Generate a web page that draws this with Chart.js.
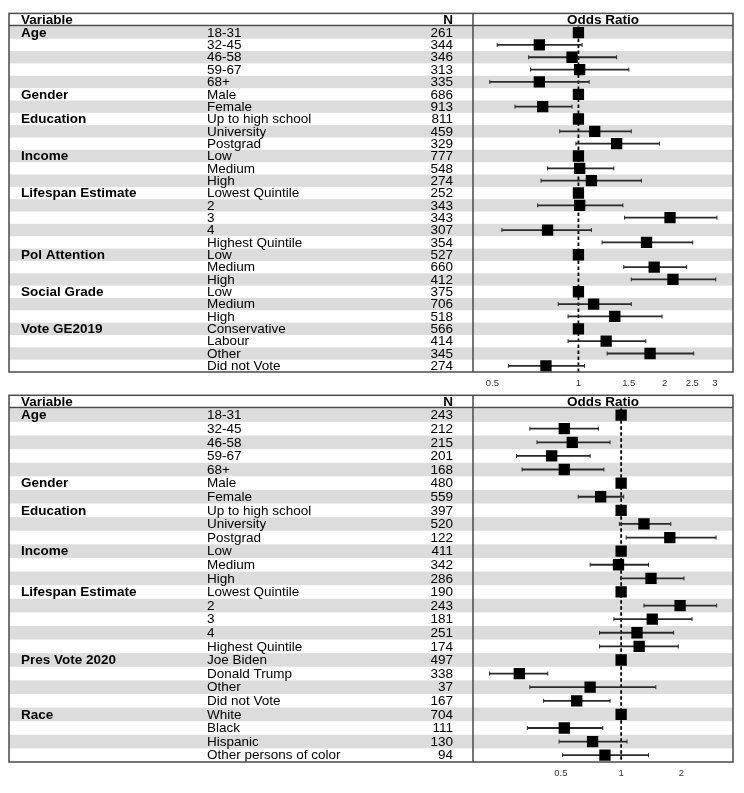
<!DOCTYPE html>
<html>
<head>
<meta charset="utf-8">
<script src="https://cdn.jsdelivr.net/npm/chart.js@4.4.1/dist/chart.umd.min.js"></script>
<style>
  html, body { margin: 0; padding: 0; background: #fff; }
  #page { position: relative; width: 744px; height: 793px; background: #fff; }
  canvas { position: absolute; left: 0; }
  #top { top: 0; }
  #bottom { top: 382px; }
</style>
</head>
<body>
<div id="page">
  <canvas id="top" width="744" height="392"></canvas>
  <canvas id="bottom" width="744" height="400"></canvas>
</div>
<script>
'use strict';

// ---- top panel (UK sample) ----
const topVariable = ['Age', '', '', '', '', 'Gender', '', 'Education', '', '', 'Income', '', '',
  'Lifespan Estimate', '', '', '', '', 'Pol Attention', '', '', 'Social Grade', '', '', 'Vote GE2019', '', '', ''];
const topLevel = ['18-31', '32-45', '46-58', '59-67', '68+', 'Male', 'Female', 'Up to high school', 'University',
  'Postgrad', 'Low', 'Medium', 'High', 'Lowest Quintile', '2', '3', '4', 'Highest Quintile', 'Low', 'Medium', 'High',
  'Low', 'Medium', 'High', 'Conservative', 'Labour', 'Other', 'Did not Vote'];
const topN = [261, 344, 346, 313, 335, 686, 913, 811, 459, 329, 777, 548, 274, 252, 343, 343, 307, 354,
  527, 660, 412, 375, 706, 518, 566, 414, 345, 274];
const topOR = [1, 0.73, 0.95, 1.01, 0.73, 1, 0.75, 1, 1.14, 1.36, 1, 1.01, 1.11, 1, 1.01, 2.09, 0.78, 1.73,
  1, 1.84, 2.14, 1, 1.13, 1.34, 1, 1.25, 1.78, 0.77];
const topLow = [null, 0.52, 0.67, 0.68, 0.49, null, 0.60, null, 0.86, 0.98, null, 0.78, 0.74, null, 0.72, 1.45, 0.54, 1.21,
  null, 1.44, 1.53, null, 0.85, 0.92, null, 0.92, 1.26, 0.57];
const topHigh = [null, 1.03, 1.36, 1.50, 1.09, null, 0.95, null, 1.53, 1.92, null, 1.33, 1.66, null, 1.43, 3.05, 1.11, 2.51,
  null, 2.39, 3.02, null, 1.53, 1.96, null, 1.72, 2.53, 1.05];
const topTicks = [0.5, 1, 1.5, 2, 2.5, 3];

// ---- bottom panel (US sample) ----
const botVariable = ['Age', '', '', '', '', 'Gender', '', 'Education', '', '', 'Income', '', '',
  'Lifespan Estimate', '', '', '', '', 'Pres Vote 2020', '', '', '', 'Race', '', '', ''];
const botLevel = ['18-31', '32-45', '46-58', '59-67', '68+', 'Male', 'Female', 'Up to high school', 'University',
  'Postgrad', 'Low', 'Medium', 'High', 'Lowest Quintile', '2', '3', '4', 'Highest Quintile', 'Joe Biden',
  'Donald Trump', 'Other', 'Did not Vote', 'White', 'Black', 'Hispanic', 'Other persons of color'];
const botN = [243, 212, 215, 201, 168, 480, 559, 397, 520, 122, 411, 342, 286, 190, 243, 181, 251, 174,
  497, 338, 37, 167, 704, 111, 130, 94];
const botOR = [1, 0.52, 0.57, 0.45, 0.52, 1, 0.79, 1, 1.30, 1.75, 1, 0.97, 1.41, 1, 1.97, 1.43, 1.20, 1.23,
  1, 0.31, 0.70, 0.60, 1, 0.52, 0.72, 0.83];
const botLow = [null, 0.35, 0.38, 0.30, 0.32, null, 0.61, null, 0.98, 1.06, null, 0.70, 1.0, null, 1.30, 0.92, 0.78, 0.78,
  null, 0.22, 0.35, 0.41, null, 0.34, 0.49, 0.51];
const botHigh = [null, 0.77, 0.88, 0.70, 0.82, null, 1.03, null, 1.77, 2.98, null, 1.37, 2.06, null, 3.0, 2.26, 1.83, 1.93,
  null, 0.43, 1.49, 0.88, null, 0.81, 1.07, 1.37];
const botTicks = [0.5, 1, 2];

const FONT = '"Liberation Sans", Arial, sans-serif';
const STRIPE = '#dcdcdc';
const FRAME = '#4a4a4a';

function forestPlugin(rows) {
  return {
    id: 'forestTable',
    beforeDatasetsDraw(chart) {
      const ctx = chart.ctx;
      const area = chart.chartArea;
      const xs = chart.scales.x;
      const ys = chart.scales.y;
      const left = 9;
      const rowH = Math.abs(ys.getPixelForValue(1) - ys.getPixelForValue(0));
      ctx.save();

      // stripes
      ctx.fillStyle = STRIPE;
      rows.level.forEach(function (_, i) {
        if (i % 2 === 0) {
          const y = ys.getPixelForValue(i);
          ctx.fillRect(left, y - rowH / 2, area.right - left, rowH);
        }
      });

      // table text
      ctx.fillStyle = '#000';
      ctx.textBaseline = 'middle';
      rows.level.forEach(function (lvl, i) {
        const y = ys.getPixelForValue(i) + 0.5;
        if (rows.variable[i]) {
          ctx.font = 'bold 13.5px ' + FONT;
          ctx.textAlign = 'left';
          ctx.fillText(rows.variable[i], 21, y);
        }
        ctx.font = '13.5px ' + FONT;
        ctx.textAlign = 'left';
        ctx.fillText(lvl, 207, y);
        ctx.textAlign = 'right';
        ctx.fillText(String(rows.n[i]), 453, y);
      });

      // header
      ctx.font = 'bold 13.5px ' + FONT;
      ctx.textBaseline = 'alphabetic';
      const hy = area.top - 2;
      ctx.textAlign = 'left';
      ctx.fillText('Variable', 21, hy);
      ctx.textAlign = 'right';
      ctx.fillText('N', 453, hy);
      ctx.textAlign = 'center';
      ctx.fillText('Odds Ratio', (area.left + area.right) / 2, hy);

      // reference line at OR = 1
      const x1 = xs.getPixelForValue(1);
      ctx.strokeStyle = '#000';
      ctx.lineWidth = 1.8;
      ctx.setLineDash([3.5, 2.5]);
      ctx.beginPath();
      ctx.moveTo(x1, area.top);
      ctx.lineTo(x1, area.bottom);
      ctx.stroke();
      ctx.setLineDash([]);

      // confidence intervals
      ctx.strokeStyle = '#2a2a2a';
      rows.level.forEach(function (_, i) {
        if (rows.low[i] == null) return;
        const y = ys.getPixelForValue(i);
        const xa = xs.getPixelForValue(rows.low[i]);
        const xb = xs.getPixelForValue(rows.high[i]);
        ctx.lineWidth = 1.8;
        ctx.beginPath();
        ctx.moveTo(xa, y);
        ctx.lineTo(xb, y);
        ctx.stroke();
        ctx.lineWidth = 1;
        ctx.beginPath();
        ctx.moveTo(xa, y - 2);
        ctx.lineTo(xa, y + 2);
        ctx.moveTo(xb, y - 2);
        ctx.lineTo(xb, y + 2);
        ctx.stroke();
      });
      ctx.restore();
    },
    afterDraw(chart) {
      const ctx = chart.ctx;
      const area = chart.chartArea;
      const left = 9;
      const boxTop = area.top - 13;
      ctx.save();
      ctx.strokeStyle = FRAME;
      ctx.lineWidth = 1.5;
      ctx.strokeRect(left, boxTop, area.right - left, area.bottom - boxTop);
      ctx.beginPath();
      ctx.moveTo(left, area.top - 0.8);
      ctx.lineTo(area.right, area.top - 0.8);
      ctx.moveTo(area.left, boxTop);
      ctx.lineTo(area.left, area.bottom);
      ctx.stroke();
      ctx.restore();
    },
  };
}

function makeForest(canvas, rows, opts) {
  const points = rows.or.map(function (v, i) { return { x: v, y: i }; });
  return new Chart(canvas, {
    type: 'scatter',
    data: {
      datasets: [{
        data: points,
        pointStyle: 'rect',
        pointRadius: 8,
        pointHoverRadius: 8,
        backgroundColor: '#000',
        borderWidth: 0,
      }],
    },
    options: {
      responsive: false,
      animation: false,
      events: [],
      layout: { padding: { left: 473, right: 11, top: opts.padTop, bottom: opts.padBottom } },
      plugins: { legend: { display: false }, tooltip: { enabled: false } },
      scales: {
        x: {
          type: 'logarithmic',
          min: opts.min,
          max: opts.max,
          bounds: 'data',
          grid: { display: false, drawTicks: false },
          border: { display: false },
          afterBuildTicks: function (scale) {
            scale.ticks = opts.ticks.map(function (v) { return { value: v }; });
          },
          afterFit: function (scale) { scale.height = 18; },
          ticks: {
            padding: 6,
            color: '#333',
            autoSkip: false,
            maxRotation: 0,
            font: { size: 9.5, family: FONT },
            callback: function (v) { return String(v); },
          },
        },
        y: {
          type: 'linear',
          display: false,
          reverse: true,
          bounds: 'data',
          min: -0.5,
          max: rows.level.length - 0.5,
        },
      },
    },
    plugins: [forestPlugin(rows)],
  });
}

makeForest(document.getElementById('top'), {
  variable: topVariable, level: topLevel, n: topN, or: topOR, low: topLow, high: topHigh,
}, { min: 0.428, max: 3.47, ticks: topTicks, padTop: 26.4, padBottom: 2 });

makeForest(document.getElementById('bottom'), {
  variable: botVariable, level: botLevel, n: botN, or: botOR, low: botLow, high: botHigh,
}, { min: 0.182, max: 3.62, ticks: botTicks, padTop: 26.3, padBottom: 2 });
</script>
</body>
</html>
